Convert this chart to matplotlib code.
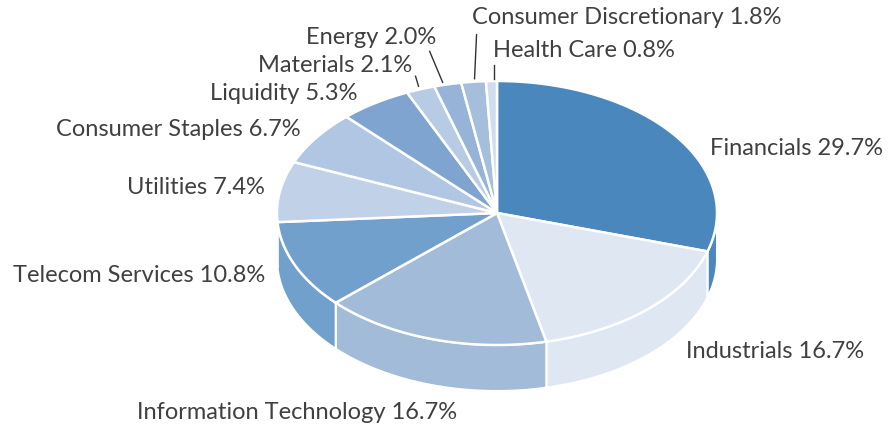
import matplotlib.pyplot as plt
import numpy as np
from matplotlib.patches import Polygon

# sector weights, clockwise from 12 o'clock
sectors = ["Financials", "Industrials", "Information Technology", "Telecom Services",
           "Utilities", "Consumer Staples", "Liquidity", "Materials", "Energy",
           "Consumer Discretionary", "Health Care"]
weights = [29.7, 16.7, 16.7, 10.8, 7.4, 6.7, 5.3, 2.1, 2.0, 1.8, 0.8]
colors = ["#4a87bd", "#dfe7f2", "#a2bbd9", "#72a0cc", "#c0d1e8", "#b0c6e2",
          "#7ea4cf", "#b8cbe4", "#97b4d8", "#a5bedb", "#d0ddef"]

# label offsets (pixels) from the rim point at each slice's mid angle, and alignment
label_off = [(36, 14), (39, 42), (-135, 73), (-30, 10), (-15, -4), (-16, -8),
             (-18, -10), (-8, -24), (-11, -47), (-2, -64), (2, -31)]
label_ha = ["left", "left", "center", "right", "right", "right", "right",
            "right", "right", "left", "left"]
leaders = {"Materials": ((-2, -3), (-5, -13)), "Energy": ((-5, -2), (-18, -33)),
           "Consumer Discretionary": ((1, -3), (3, -47)),
           "Health Care": ((3, -2), (3, -16))}

# projected pie geometry (pixels)
cx, cy, rx, ry, depth = 497, 213, 220, 132, 46


def rim(theta, dz=0):
    return cx + rx * np.cos(theta), cy - ry * np.sin(theta) + dz


fig = plt.figure(figsize=(8.9, 4.32), dpi=100)
ax = fig.add_axes([0, 0, 1, 1])
ax.set_xlim(0, 890)
ax.set_ylim(432, 0)
ax.axis("off")

fr = np.array(weights) / sum(weights)
starts = np.pi / 2 - 2 * np.pi * np.concatenate([[0], np.cumsum(fr)[:-1]])
ends = starts - 2 * np.pi * fr

# side walls (front half only)
for a0, a1, c in zip(starts, ends, colors):
    t = np.linspace(a0, a1, 200)
    front = np.sin(t) <= 0
    if not front.any():
        continue
    tf = t[front]
    xt, yt = rim(tf)
    xb, yb = rim(tf, depth)
    pts = np.column_stack([np.concatenate([xt, xb[::-1]]), np.concatenate([yt, yb[::-1]])])
    ax.add_patch(Polygon(pts, closed=True, facecolor=c, edgecolor="white", lw=1.5, zorder=1))

# top faces
for a0, a1, c in zip(starts, ends, colors):
    t = np.linspace(a0, a1, 200)
    x, y = rim(t)
    pts = np.column_stack([np.concatenate([[cx], x]), np.concatenate([[cy], y])])
    ax.add_patch(Polygon(pts, closed=True, facecolor=c, edgecolor="white", lw=1.8,
                         joinstyle="miter", zorder=2))

# labels
for name, w, a0, a1, off, ha in zip(sectors, weights, starts, ends, label_off, label_ha):
    mid = (a0 + a1) / 2
    px, py = rim(mid)
    ax.text(px + off[0], py + off[1], f"{name} {w:.1f}%", ha=ha, va="center",
            fontsize=17, color="#404040", family=["Lato", "DejaVu Sans"], zorder=3)
    if name in leaders:
        (x0, y0), (x1, y1) = leaders[name]
        ax.plot([px + x0, px + x1], [py + y0, py + y1], color="#333333", lw=1, zorder=3)

fig.savefig("out.png", dpi=100)
